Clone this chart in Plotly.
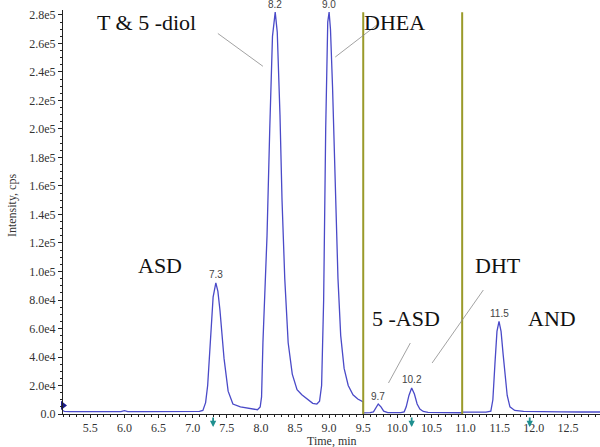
import plotly.graph_objects as go

# ---- data ----
time_min = [5.10, 5.12, 5.20, 5.50, 5.80, 5.95, 6.00, 6.05, 6.30, 6.60, 6.90, 7.05, 7.10, 7.15, 7.19, 7.22,
            7.26, 7.30, 7.34, 7.37, 7.40, 7.43, 7.46, 7.52, 7.59, 7.70, 7.80, 7.90, 7.95, 7.99, 8.01, 8.03,
            8.06, 8.09, 8.13, 8.17, 8.21, 8.24, 8.28, 8.31, 8.35, 8.40, 8.46, 8.53, 8.60, 8.68, 8.76, 8.82,
            8.86, 8.89, 8.92, 8.95, 8.98, 9.00, 9.02, 9.05, 9.09, 9.13, 9.17, 9.22, 9.28, 9.35, 9.42, 9.50,
            9.50, 9.60, 9.65, 9.69, 9.72, 9.76, 9.80, 9.86, 9.95, 10.05, 10.10, 10.13, 10.17, 10.21, 10.25,
            10.29, 10.33, 10.38, 10.45, 10.60, 10.80, 10.95, 10.95, 11.10, 11.30, 11.37, 11.40, 11.43, 11.46,
            11.49, 11.52, 11.55, 11.58, 11.61, 11.65, 11.72, 11.85, 12.10, 12.40, 12.70, 12.97]
intensity = [2500, 1800, 1700, 1600, 1600, 1700, 2300, 1700, 1600, 1500, 1500, 1600, 1800, 2500, 8000, 20000,
             51000, 82000, 92000, 86000, 73000, 55000, 39000, 16000, 7000, 5000, 4200, 3200, 3000, 5000, 12000, 50000,
             90000, 125000, 200000, 265000, 282000, 268000, 210000, 150000, 95000, 50000, 28000, 17000, 13500, 10500, 7500, 7000,
             9000, 20000, 80000, 200000, 275000, 282000, 270000, 230000, 160000, 95000, 55000, 32000, 20000, 13500, 10500, 8500,
             800, 900, 1500, 5000, 7000, 5000, 2000, 1000, 800, 900, 1500, 5000, 13000, 18300, 14000,
             7000, 3500, 1800, 1200, 1000, 900, 900, 1300, 1200, 1300, 2000, 10000, 35000, 58000,
             65000, 58000, 42000, 25000, 13000, 5000, 2500, 1800, 1500, 1500, 1400, 1400]

peak_times = [7.34, 8.21, 9.00, 9.72, 10.21, 11.49]
peak_heights = [92000, 282000, 282000, 7000, 18300, 65000]
peak_labels = ["7.3", "8.2", "9.0", "9.7", "10.2", "11.5"]

period_bounds = [9.5, 10.95]
marker_arrows = [7.30, 10.21, 11.94]

compound_names = ["ASD", "T & 5 -diol", "DHEA", "5 -ASD", "DHT", "AND"]
compound_x = [6.52, 6.33, 9.96, 10.12, 11.48, 12.26]
compound_y = [104000, 275000, 275000, 67000, 104000, 67000]

leader_lines = [  # (x0, y0, x1, y1)
    (7.37, 267000, 8.03, 244000),
    (9.70, 273000, 9.09, 250500),
    (10.19, 49800, 9.87, 21750),
    (11.26, 87000, 10.51, 35800),
]

y_tickvals = [0, 20000, 40000, 60000, 80000, 100000, 120000, 140000, 160000, 180000,
              200000, 220000, 240000, 260000, 280000]
y_ticktext = ["0.0", "2.0e4", "4.0e4", "6.0e4", "8.0e4", "1.0e5", "1.2e5", "1.4e5", "1.6e5", "1.8e5",
              "2.0e5", "2.2e5", "2.4e5", "2.6e5", "2.8e5"]

SERIF = "Liberation Serif, Times New Roman, serif"

fig = go.Figure()
fig.add_trace(go.Scatter(x=time_min, y=intensity, mode="lines",
                         line=dict(color="#4a4ac8", width=1.3), showlegend=False, hoverinfo="skip"))
fig.add_trace(go.Scatter(x=[time_min[0]], y=[6000], mode="markers", cliponaxis=False,
                         marker=dict(symbol="triangle-right", size=8, color="#1c1c8a"), showlegend=False))

for b in period_bounds:
    fig.add_shape(type="line", xref="x", yref="y", x0=b, x1=b, y0=0, y1=282000,
                  line=dict(color="#9a9a2a", width=2))

for (x0, y0, x1, y1) in leader_lines:
    fig.add_shape(type="line", xref="x", yref="y", x0=x0, y0=y0, x1=x1, y1=y1,
                  line=dict(color="#8a8a8a", width=0.8))

for t, h, lab in zip(peak_times, peak_heights, peak_labels):
    fig.add_annotation(x=t, y=h, xref="x", yref="y", text=lab, showarrow=False, yshift=8,
                       font=dict(family="Arial, Liberation Sans, sans-serif", size=10, color="#444"))

for name, cx, cy in zip(compound_names, compound_x, compound_y):
    fig.add_annotation(x=cx, y=cy, xref="x", yref="y", text=name, showarrow=False,
                       font=dict(family=SERIF, size=22, color="#111"))

for t in marker_arrows:
    fig.add_annotation(x=t, y=-0.032, xref="x", yref="paper", text="", showarrow=True,
                       ax=0, ay=-11, arrowhead=2, arrowsize=0.7, arrowwidth=1.8, arrowcolor="#1f8f8f")

# axis titles
fig.add_annotation(x=0.50, y=-0.067, xref="paper", yref="paper", text="Time, min", showarrow=False,
                   font=dict(family=SERIF, size=12, color="#333"), yanchor="middle")
fig.add_annotation(x=-0.095, y=0.517, xref="paper", yref="paper", text="Intensity, cps", showarrow=False,
                   textangle=-90, font=dict(family=SERIF, size=12, color="#333"), xanchor="center")

fig.update_layout(
    width=600, height=447,
    margin=dict(l=63, r=0, t=10, b=33),
    plot_bgcolor="white", paper_bgcolor="white",
    font=dict(family=SERIF, size=12, color="#333"),
    xaxis=dict(range=[5.1, 12.97], tick0=5.5, dtick=0.5, tickformat=".1f", automargin=False,
               showgrid=False, zeroline=False, showline=True, linecolor="#222", linewidth=1,
               ticks="outside", ticklen=3, tickcolor="#222",
               minor=dict(dtick=0.1, ticks="outside", ticklen=2, tickcolor="#222")),
    yaxis=dict(range=[0, 283500], tickmode="array", tickvals=y_tickvals, ticktext=y_ticktext, automargin=False,
               showgrid=False, zeroline=False, showline=True, linecolor="#222", linewidth=1,
               ticks="outside", ticklen=4, tickcolor="#222",
               minor=dict(dtick=5000, ticks="outside", ticklen=2, tickcolor="#222")),
)

fig.write_html("out.html", config={"displayModeBar": False},
               post_script="document.body.style.margin='0';document.body.style.padding='0';")
